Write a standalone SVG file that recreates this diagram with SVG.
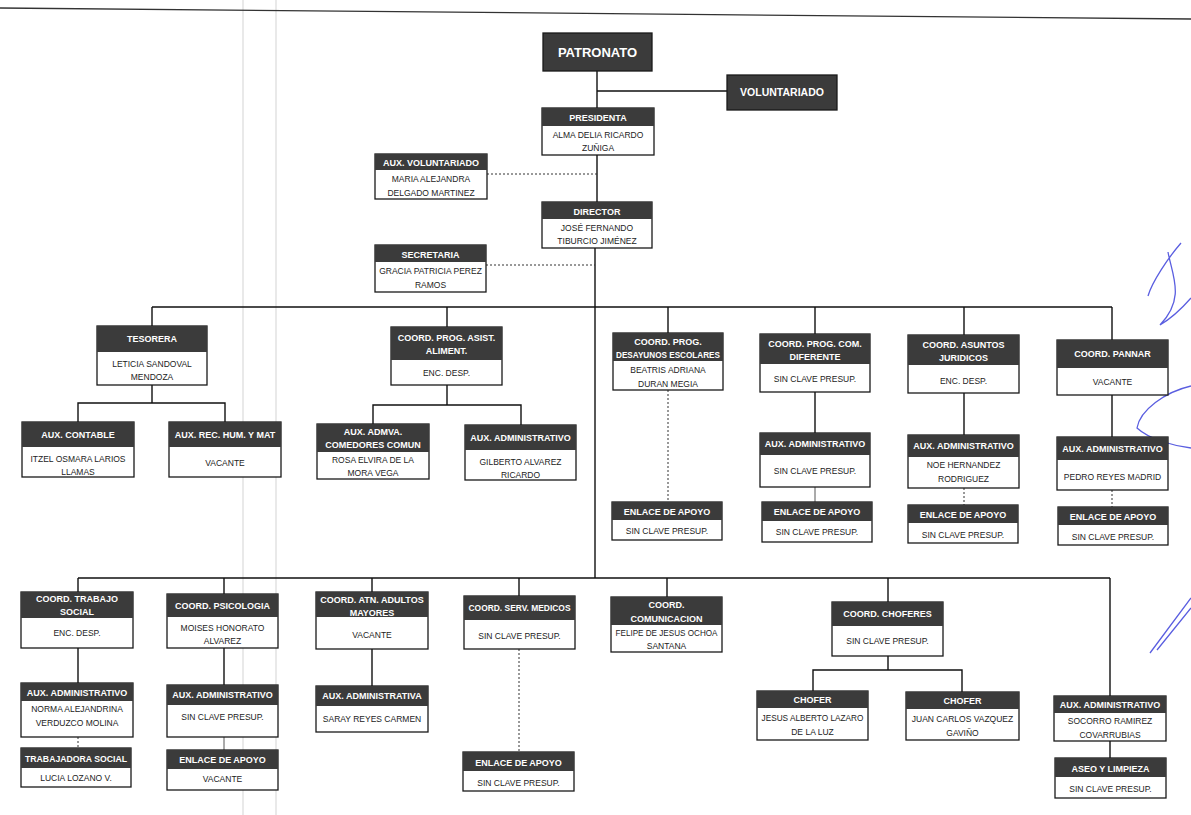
<svg xmlns="http://www.w3.org/2000/svg" width="1191" height="815" viewBox="0 0 1191 815">
<style>
.box{fill:#fff;stroke:#1a1a1a;stroke-width:1.3}
.hd{fill:#3b3b3b}
.dk{fill:#3b3b3b;stroke:#1a1a1a;stroke-width:1.3}
.ht{font-family:"Liberation Sans Narrow","Liberation Sans",sans-serif;font-weight:bold;font-size:9px;fill:#fff;text-anchor:middle}
.bt{font-family:"Liberation Sans Narrow","Liberation Sans",sans-serif;font-size:8.5px;fill:#222;text-anchor:middle}
.big{font-family:"Liberation Sans Narrow","Liberation Sans",sans-serif;font-weight:bold;fill:#fff;text-anchor:middle}
.ln{stroke:#111;stroke-width:1.4;fill:none}
.dt{stroke:#333;stroke-width:1;stroke-dasharray:2 2;fill:none}
.th{stroke:#444;stroke-width:0.9;fill:none}
.scan{stroke:#e2e2e2;stroke-width:1.5}
.pen{stroke:#5a5ee0;stroke-width:1.3;fill:none}
</style>
<rect width="1191" height="815" fill="#fff"/>
<g id="scan-marks">
<line class="scan" x1="243" y1="0" x2="243" y2="815"/>
<line class="scan" x1="276" y1="0" x2="276" y2="815"/>
<line x1="0" y1="8" x2="1191" y2="19" stroke="#333" stroke-width="1.3"/>
<path class="pen" d="M1181,243 C1168,258 1152,282 1148,296 M1168,252 C1172,275 1186,298 1160,325 C1172,318 1184,306 1191,298"/>
<path class="pen" d="M1191,386 C1165,392 1140,410 1137,428 C1150,440 1175,446 1191,448"/>
<path class="pen" d="M1150,653 L1191,598 M1157,650 L1191,608"/>
</g>
<g id="connectors">
<path class="ln" d="M597,71 V108 M597,91 H727 M597,155 V202 M595,248 V578"/>
<path class="dt" d="M487,174 H597 M486,265 H595"/>
<path class="ln" d="M152,307 H1112 M152,307 V326 M447,307 V327 M668,307 V333 M815,307 V334 M964,307 V335 M1112,307 V340"/>
<path class="ln" d="M152,385 V403 M78,422 V403 H225 V422"/>
<path class="ln" d="M447,385 V405 M373,424 V405 H521 V425"/>
<path class="dt" d="M668,390 V502"/>
<path class="ln" d="M815,392 V433"/>
<path class="th" d="M815,487 V502"/>
<path class="ln" d="M964,393 V435"/>
<path class="dt" d="M964,488 V505"/>
<path class="ln" d="M1112,395 V437"/>
<path class="dt" d="M1112,490 V507"/>
<path class="ln" d="M78,578 H1110 M78,578 V592 M224,578 V594 M372,578 V592 M519,578 V596 M667,578 V597 M888,578 V602 M1110,578 V696"/>
<path class="ln" d="M78,648 V683"/>
<path class="dt" d="M78,737 V748"/>
<path class="ln" d="M224,648 V685"/>
<path class="th" d="M224,737 V750"/>
<path class="ln" d="M372,649 V686"/>
<path class="dt" d="M519,649 V752"/>
<path class="ln" d="M888,656 V670 M813,691 V670 H962 V692"/>
<path class="ln" d="M1110,741 V758"/>
</g>
<g id="patronato"><rect class="dk" x="543" y="33" width="109" height="38"/><text class="big" x="597.5" y="57" font-size="13">PATRONATO</text></g>
<g id="voluntariado"><rect class="dk" x="727" y="75" width="110" height="35"/><text class="big" x="782" y="96" font-size="10.5">VOLUNTARIADO</text></g>
<g id="presidenta"><rect class="box" x="542" y="108" width="112" height="47"/><rect class="hd" x="542" y="108" width="112" height="18"/><text class="ht" x="598" y="121">PRESIDENTA</text><text class="bt" x="598" y="138">ALMA DELIA RICARDO</text><text class="bt" x="598" y="151">ZUÑIGA</text></g>
<g id="aux-voluntariado"><rect class="box" x="375" y="154" width="112" height="45"/><rect class="hd" x="375" y="154" width="112" height="16"/><text class="ht" x="431" y="166">AUX. VOLUNTARIADO</text><text class="bt" x="431" y="182">MARIA ALEJANDRA</text><text class="bt" x="431" y="196">DELGADO MARTINEZ</text></g>
<g id="director"><rect class="box" x="542" y="202" width="110" height="46"/><rect class="hd" x="542" y="202" width="110" height="17"/><text class="ht" x="597" y="215">DIRECTOR</text><text class="bt" x="597" y="231">JOSÉ FERNANDO</text><text class="bt" x="597" y="244">TIBURCIO JIMÉNEZ</text></g>
<g id="secretaria"><rect class="box" x="375" y="245" width="111" height="47"/><rect class="hd" x="375" y="245" width="111" height="17"/><text class="ht" x="430.5" y="258">SECRETARIA</text><text class="bt" x="430.5" y="274">GRACIA PATRICIA PEREZ</text><text class="bt" x="430.5" y="288">RAMOS</text></g>
<g id="tesorera"><rect class="box" x="97" y="326" width="110" height="59"/><rect class="hd" x="97" y="326" width="110" height="26"/><text class="ht" x="152" y="342">TESORERA</text><text class="bt" x="152" y="367">LETICIA SANDOVAL</text><text class="bt" x="152" y="380">MENDOZA</text></g>
<g id="aux-contable"><rect class="box" x="22" y="422" width="112" height="55"/><rect class="hd" x="22" y="422" width="112" height="25"/><text class="ht" x="78" y="438">AUX. CONTABLE</text><text class="bt" x="78" y="462">ITZEL OSMARA LARIOS</text><text class="bt" x="78" y="475">LLAMAS</text></g>
<g id="aux-rec-hum"><rect class="box" x="169" y="422" width="112" height="55"/><rect class="hd" x="169" y="422" width="112" height="25"/><text class="ht" x="225" y="438">AUX. REC. HUM. Y MAT</text><text class="bt" x="225" y="466">VACANTE</text></g>
<g id="coord-asist-aliment"><rect class="box" x="391" y="327" width="111" height="58"/><rect class="hd" x="391" y="327" width="111" height="33"/><text class="ht" x="446.5" y="341">COORD. PROG. ASIST.</text><text class="ht" x="446.5" y="354">ALIMENT.</text><text class="bt" x="446.5" y="376">ENC. DESP.</text></g>
<g id="aux-admva-comedores"><rect class="box" x="317" y="424" width="112" height="55"/><rect class="hd" x="317" y="424" width="112" height="28"/><text class="ht" x="373" y="435">AUX. ADMVA.</text><text class="ht" x="373" y="448">COMEDORES COMUN</text><text class="bt" x="373" y="463">ROSA ELVIRA DE LA</text><text class="bt" x="373" y="476">MORA VEGA</text></g>
<g id="aux-admin-gilberto"><rect class="box" x="465" y="425" width="111" height="55"/><rect class="hd" x="465" y="425" width="111" height="25"/><text class="ht" x="520.5" y="441">AUX. ADMINISTRATIVO</text><text class="bt" x="520.5" y="465">GILBERTO ALVAREZ</text><text class="bt" x="520.5" y="478">RICARDO</text></g>
<g id="coord-desayunos"><rect class="box" x="613" y="333" width="110" height="57"/><rect class="hd" x="613" y="333" width="110" height="28"/><text class="ht" x="668" y="345">COORD. PROG.</text><text class="ht" x="668" y="358" textLength="104" lengthAdjust="spacingAndGlyphs">DESAYUNOS ESCOLARES</text><text class="bt" x="668" y="373">BEATRIS ADRIANA</text><text class="bt" x="668" y="387">DURAN MEGIA</text></g>
<g id="enlace-desayunos"><rect class="box" x="612" y="502" width="110" height="38"/><rect class="hd" x="612" y="502" width="110" height="18"/><text class="ht" x="667" y="515">ENLACE DE APOYO</text><text class="bt" x="667" y="534">SIN CLAVE PRESUP.</text></g>
<g id="coord-com-diferente"><rect class="box" x="760" y="334" width="110" height="58"/><rect class="hd" x="760" y="334" width="110" height="30"/><text class="ht" x="815" y="347">COORD. PROG. COM.</text><text class="ht" x="815" y="360">DIFERENTE</text><text class="bt" x="815" y="382">SIN CLAVE PRESUP.</text></g>
<g id="aux-admin-comdif"><rect class="box" x="760" y="433" width="110" height="54"/><rect class="hd" x="760" y="433" width="110" height="22"/><text class="ht" x="815" y="447">AUX. ADMINISTRATIVO</text><text class="bt" x="815" y="474">SIN CLAVE PRESUP.</text></g>
<g id="enlace-comdif"><rect class="box" x="762" y="502" width="110" height="40"/><rect class="hd" x="762" y="502" width="110" height="19"/><text class="ht" x="817" y="515">ENLACE DE APOYO</text><text class="bt" x="817" y="535">SIN CLAVE PRESUP.</text></g>
<g id="coord-juridicos"><rect class="box" x="908" y="335" width="111" height="58"/><rect class="hd" x="908" y="335" width="111" height="30"/><text class="ht" x="963.5" y="348">COORD. ASUNTOS</text><text class="ht" x="963.5" y="361">JURIDICOS</text><text class="bt" x="963.5" y="384">ENC. DESP.</text></g>
<g id="aux-admin-noe"><rect class="box" x="908" y="435" width="111" height="53"/><rect class="hd" x="908" y="435" width="111" height="22"/><text class="ht" x="963.5" y="449">AUX. ADMINISTRATIVO</text><text class="bt" x="963.5" y="468">NOE HERNANDEZ</text><text class="bt" x="963.5" y="482">RODRIGUEZ</text></g>
<g id="enlace-juridicos"><rect class="box" x="908" y="505" width="110" height="38"/><rect class="hd" x="908" y="505" width="110" height="18"/><text class="ht" x="963" y="518">ENLACE DE APOYO</text><text class="bt" x="963" y="538">SIN CLAVE PRESUP.</text></g>
<g id="coord-pannar"><rect class="box" x="1057" y="340" width="111" height="55"/><rect class="hd" x="1057" y="340" width="111" height="28"/><text class="ht" x="1112.5" y="357">COORD. PANNAR</text><text class="bt" x="1112.5" y="385">VACANTE</text></g>
<g id="aux-admin-pedro"><rect class="box" x="1057" y="437" width="111" height="53"/><rect class="hd" x="1057" y="437" width="111" height="23"/><text class="ht" x="1112.5" y="452">AUX. ADMINISTRATIVO</text><text class="bt" x="1112.5" y="480">PEDRO REYES MADRID</text></g>
<g id="enlace-pannar"><rect class="box" x="1058" y="507" width="110" height="38"/><rect class="hd" x="1058" y="507" width="110" height="18"/><text class="ht" x="1113" y="520">ENLACE DE APOYO</text><text class="bt" x="1113" y="540">SIN CLAVE PRESUP.</text></g>
<g id="coord-trabajo-social"><rect class="box" x="21" y="592" width="112" height="56"/><rect class="hd" x="21" y="592" width="112" height="26"/><text class="ht" x="77" y="602">COORD. TRABAJO</text><text class="ht" x="77" y="615">SOCIAL</text><text class="bt" x="77" y="636">ENC. DESP.</text></g>
<g id="aux-admin-norma"><rect class="box" x="21" y="683" width="112" height="54"/><rect class="hd" x="21" y="683" width="112" height="18"/><text class="ht" x="77" y="696">AUX. ADMINISTRATIVO</text><text class="bt" x="77" y="712">NORMA ALEJANDRINA</text><text class="bt" x="77" y="726">VERDUZCO MOLINA</text></g>
<g id="trabajadora-social"><rect class="box" x="21" y="748" width="110" height="39"/><rect class="hd" x="21" y="748" width="110" height="20"/><text class="ht" x="76" y="762" textLength="102" lengthAdjust="spacingAndGlyphs">TRABAJADORA SOCIAL</text><text class="bt" x="76" y="781">LUCIA LOZANO V.</text></g>
<g id="coord-psicologia"><rect class="box" x="167" y="594" width="111" height="54"/><rect class="hd" x="167" y="594" width="111" height="23"/><text class="ht" x="222.5" y="609">COORD. PSICOLOGIA</text><text class="bt" x="222.5" y="631">MOISES HONORATO</text><text class="bt" x="222.5" y="644">ALVAREZ</text></g>
<g id="aux-admin-psico"><rect class="box" x="167" y="685" width="111" height="52"/><rect class="hd" x="167" y="685" width="111" height="20"/><text class="ht" x="222.5" y="698">AUX. ADMINISTRATIVO</text><text class="bt" x="222.5" y="720">SIN CLAVE PRESUP.</text></g>
<g id="enlace-psico"><rect class="box" x="167" y="750" width="111" height="40"/><rect class="hd" x="167" y="750" width="111" height="19"/><text class="ht" x="222.5" y="763">ENLACE DE APOYO</text><text class="bt" x="222.5" y="782">VACANTE</text></g>
<g id="coord-adultos"><rect class="box" x="316" y="592" width="112" height="57"/><rect class="hd" x="316" y="592" width="112" height="25"/><text class="ht" x="372" y="603">COORD. ATN. ADULTOS</text><text class="ht" x="372" y="616">MAYORES</text><text class="bt" x="372" y="638">VACANTE</text></g>
<g id="aux-administrativa-saray"><rect class="box" x="316" y="686" width="112" height="46"/><rect class="hd" x="316" y="686" width="112" height="20"/><text class="ht" x="372" y="699">AUX. ADMINISTRATIVA</text><text class="bt" x="372" y="722">SARAY REYES CARMEN</text></g>
<g id="coord-medicos"><rect class="box" x="464" y="596" width="111" height="53"/><rect class="hd" x="464" y="596" width="111" height="24"/><text class="ht" x="519.5" y="611" textLength="102" lengthAdjust="spacingAndGlyphs">COORD. SERV. MEDICOS</text><text class="bt" x="519.5" y="639">SIN CLAVE PRESUP.</text></g>
<g id="enlace-medicos"><rect class="box" x="463" y="752" width="111" height="39"/><rect class="hd" x="463" y="752" width="111" height="19"/><text class="ht" x="518.5" y="766">ENLACE DE APOYO</text><text class="bt" x="518.5" y="786">SIN CLAVE PRESUP.</text></g>
<g id="coord-comunicacion"><rect class="box" x="611" y="597" width="111" height="55"/><rect class="hd" x="611" y="597" width="111" height="28"/><text class="ht" x="666.5" y="608">COORD.</text><text class="ht" x="666.5" y="622">COMUNICACION</text><text class="bt" x="666.5" y="636" textLength="102" lengthAdjust="spacingAndGlyphs">FELIPE DE JESUS OCHOA</text><text class="bt" x="666.5" y="649">SANTANA</text></g>
<g id="coord-choferes"><rect class="box" x="832" y="602" width="111" height="54"/><rect class="hd" x="832" y="602" width="111" height="24"/><text class="ht" x="887.5" y="617">COORD. CHOFERES</text><text class="bt" x="887.5" y="644">SIN CLAVE PRESUP.</text></g>
<g id="chofer-jesus"><rect class="box" x="757" y="691" width="111" height="49"/><rect class="hd" x="757" y="691" width="111" height="17"/><text class="ht" x="812.5" y="703">CHOFER</text><text class="bt" x="812.5" y="721" textLength="102" lengthAdjust="spacingAndGlyphs">JESUS ALBERTO LAZARO</text><text class="bt" x="812.5" y="735">DE LA LUZ</text></g>
<g id="chofer-juan"><rect class="box" x="906" y="692" width="113" height="48"/><rect class="hd" x="906" y="692" width="113" height="17"/><text class="ht" x="962.5" y="704">CHOFER</text><text class="bt" x="962.5" y="722">JUAN CARLOS VAZQUEZ</text><text class="bt" x="962.5" y="736">GAVIÑO</text></g>
<g id="aux-admin-socorro"><rect class="box" x="1054" y="696" width="112" height="45"/><rect class="hd" x="1054" y="696" width="112" height="17"/><text class="ht" x="1110" y="708">AUX. ADMINISTRATIVO</text><text class="bt" x="1110" y="724">SOCORRO RAMIREZ</text><text class="bt" x="1110" y="738">COVARRUBIAS</text></g>
<g id="aseo-limpieza"><rect class="box" x="1055" y="758" width="111" height="40"/><rect class="hd" x="1055" y="758" width="111" height="19"/><text class="ht" x="1110.5" y="772">ASEO Y LIMPIEZA</text><text class="bt" x="1110.5" y="792">SIN CLAVE PRESUP.</text></g>
</svg>
